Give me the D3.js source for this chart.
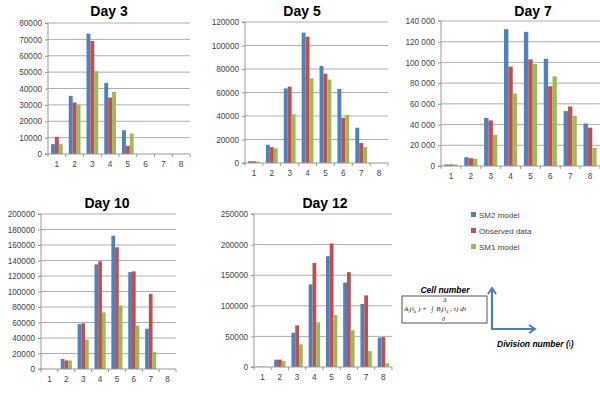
<!DOCTYPE html>
<html><head><meta charset="utf-8">
<script src="https://cdn.jsdelivr.net/npm/d3@7"></script>
<style>body{margin:0;background:#fff}svg{display:block}</style>
</head><body><svg id="c" width="600" height="406"></svg>
<script>
const categories = ["1","2","3","4","5","6","7","8"];
const seriesNames = ["SM2 model","Observed data","SM1 model"];
const seriesColors = ["#4F81BD","#C0504D","#9BBB59"];

const day3SM2 = [6000,35500,73500,43500,14500,0,0,0];
const day3Obs = [10500,31500,69000,34500,5000,0,0,0];
const day3SM1 = [6000,30000,50500,38000,12500,0,0,0];

const day5SM2 = [1500,15500,63500,111000,82500,63000,30000,0];
const day5Obs = [1500,13500,65000,107500,76000,38500,17000,0];
const day5SM1 = [1200,12500,41500,72000,71000,41000,13500,0];

const day7SM2 = [1500,8500,46500,132000,129500,103500,53000,41000];
const day7Obs = [1500,7500,44000,96000,103000,77000,57500,37000];
const day7SM1 = [1500,7000,30000,70000,98500,86500,48500,17500];

const day10SM2 = [0,13000,58000,135000,172000,125000,52000,0];
const day10Obs = [0,11000,59000,139000,157000,126000,97000,0];
const day10SM1 = [0,11000,38000,73000,82000,56000,22000,0];

const day12SM2 = [600,12000,56000,135000,181000,138000,103000,48000];
const day12Obs = [600,12000,68000,170000,202000,155000,117000,49000];
const day12SM1 = [500,10000,37000,73000,85000,60000,26000,6000];

const day3Ticks = [0,10000,20000,30000,40000,50000,60000,70000,80000];
const day5Ticks = [0,20000,40000,60000,80000,100000,120000];
const day7Ticks = [0,20000,40000,60000,80000,100000,120000,140000];
const day10Ticks = [0,20000,40000,60000,80000,100000,120000,140000,160000,180000,200000];
const day12Ticks = [0,50000,100000,150000,200000,250000];

const panels = [
  {title:"Day 3", series:[day3SM2,day3Obs,day3SM1], ticks:day3Ticks, x0:48, x1:190, y0:154, y1:23, tx:109, ty:16, sep:false},
  {title:"Day 5", series:[day5SM2,day5Obs,day5SM1], ticks:day5Ticks, x0:245, x1:388, y0:163, y1:22, tx:302, ty:16, sep:false},
  {title:"Day 7", series:[day7SM2,day7Obs,day7SM1], ticks:day7Ticks, x0:441, x1:600, y0:166, y1:21, tx:533, ty:16, sep:true},
  {title:"Day 10", series:[day10SM2,day10Obs,day10SM1], ticks:day10Ticks, x0:41, x1:176, y0:369, y1:214, tx:107, ty:208, sep:false},
  {title:"Day 12", series:[day12SM2,day12Obs,day12SM1], ticks:day12Ticks, x0:254, x1:392, y0:367, y1:214, tx:325, ty:208, sep:false}
];

const svg = d3.select("#c");
const font = "'Liberation Sans', Arial, sans-serif";
const gridCol = "#999";

panels.forEach(p => {
  const g = svg.append("g");
  const x = d3.scaleBand().domain(categories).range([p.x0, p.x1]).padding(0);
  const xi = d3.scaleBand().domain([0,1,2]).range([x.bandwidth()*0.17, x.bandwidth()*0.83]).padding(0);
  const y = d3.scaleLinear().domain([0, d3.max(p.ticks)]).range([p.y0, p.y1]);
  const fmt = p.sep ? (v => d3.format(",")(v).replace(/,/g, " ")) : d3.format("d");

  g.selectAll("line.grid").data(p.ticks.filter(t => t > 0)).join("line")
    .attr("x1", p.x0).attr("x2", p.x1).attr("y1", d => y(d)).attr("y2", d => y(d))
    .attr("stroke", gridCol).attr("stroke-width", 0.8);

  p.series.forEach((vals, si) => {
    g.selectAll(null).data(vals.map((v,i)=>({c:categories[i], v}))).join("rect")
      .attr("x", d => x(d.c) + xi(si))
      .attr("y", d => y(d.v))
      .attr("width", xi.bandwidth())
      .attr("height", d => p.y0 - y(d.v))
      .attr("fill", seriesColors[si]);
  });

  const ya = d3.axisLeft(y).tickValues(p.ticks).tickFormat(fmt).tickSize(3).tickPadding(3);
  const yg = g.append("g").attr("transform", `translate(${p.x0},0)`).call(ya);
  yg.select(".domain").attr("stroke", gridCol).attr("d", `M-3,${p.y1}H0V${p.y0}H-3`);
  yg.selectAll(".tick line").attr("stroke", gridCol);
  yg.selectAll("text").attr("font-family", font).attr("font-size", 8.2).attr("fill", "#444");

  const xa = d3.axisBottom(x).tickSize(0).tickPadding(7);
  const xg = g.append("g").attr("transform", `translate(0,${p.y0})`).call(xa);
  xg.select(".domain").attr("stroke", gridCol).attr("d", `M${p.x0},0H${p.x1}`);
  xg.selectAll("text").attr("font-family", font).attr("font-size", 8.2).attr("fill", "#444");
  g.selectAll(null).data(d3.range(categories.length + 1)).join("line")
    .attr("x1", i => p.x0 + i * x.step()).attr("x2", i => p.x0 + i * x.step())
    .attr("y1", p.y0).attr("y2", p.y0 + 3).attr("stroke", gridCol);

  g.append("text").attr("x", p.tx).attr("y", p.ty).attr("text-anchor", "middle")
    .attr("font-family", font).attr("font-weight", "bold")
    .attr("font-size", 14).attr("fill", "#000").text(p.title);
});

// legend
const leg = svg.append("g");
seriesNames.forEach((n, i) => {
  const yy = 215 + i * 16;
  leg.append("rect").attr("x", 471).attr("y", yy - 3).attr("width", 5).attr("height", 5).attr("fill", seriesColors[i]);
  leg.append("text").attr("x", 479).attr("y", yy + 3).attr("font-family", font).attr("font-size", 8)
    .attr("fill", "#444").text(n);
});

// annotation
const an = svg.append("g");
an.append("text").attr("x", 445).attr("y", 293).attr("text-anchor", "middle")
  .attr("font-family", font).attr("font-weight", "bold").attr("font-style", "italic")
  .attr("font-size", 8.5).attr("fill", "#000").text("Cell  number");
an.append("rect").attr("x", 402).attr("y", 296).attr("width", 85).attr("height", 27)
  .attr("fill", "#fff").attr("stroke", "#555").attr("stroke-width", 1);
const ff = "'Liberation Serif', 'DejaVu Serif', serif";
const fs = 7, ss = 5;
const ft = an.append("text").attr("x", 404).attr("y", 311).attr("font-family", ff)
  .attr("font-style", "italic").attr("font-size", fs).attr("fill", "#222");
ft.append("tspan").text("A");
ft.append("tspan").attr("font-size", ss).attr("dy", 1.5).text("i");
ft.append("tspan").attr("dy", -1.5).text("(t");
ft.append("tspan").attr("font-size", ss).attr("dy", 1.5).text("k");
ft.append("tspan").attr("dy", -1.5).text(" ) + ");
ft.append("tspan").attr("font-style", "normal").attr("dx", 3).text("∫");
ft.append("tspan").attr("dx", 1).text(" B");
ft.append("tspan").attr("font-size", ss).attr("dy", 1.5).text("i");
ft.append("tspan").attr("dy", -1.5).text("(t");
ft.append("tspan").attr("font-size", ss).attr("dy", 1.5).text("k");
ft.append("tspan").attr("dy", -1.5).text(" , τ) dτ");
an.append("text").attr("x", 443).attr("y", 302).attr("font-family", ff).attr("font-style", "italic")
  .attr("font-size", 6).attr("fill", "#222").text("Δ");
an.append("text").attr("x", 442).attr("y", 321).attr("font-family", ff).attr("font-style", "italic")
  .attr("font-size", 6).attr("fill", "#222").text("0");

const ac = "#4A7EC0";
an.append("path").attr("d", "M492,329V290").attr("stroke", ac).attr("stroke-width", 2.2).attr("fill", "none");
an.append("path").attr("d", "M488,294L492,288L496,294").attr("stroke", ac).attr("stroke-width", 2).attr("fill", "none");
an.append("path").attr("d", "M491,329H534").attr("stroke", ac).attr("stroke-width", 2.2).attr("fill", "none");
an.append("path").attr("d", "M529,325L535,329L529,333").attr("stroke", ac).attr("stroke-width", 2).attr("fill", "none");
const dt = an.append("text").attr("x", 497).attr("y", 347).attr("font-family", font).attr("font-weight", "bold")
  .attr("font-style", "italic").attr("font-size", 8.5).attr("fill", "#000");
dt.append("tspan").text("Division number (");
dt.append("tspan").attr("font-weight", "normal").attr("font-style", "normal").text("i");
dt.append("tspan").text(")");
</script></body></html>
